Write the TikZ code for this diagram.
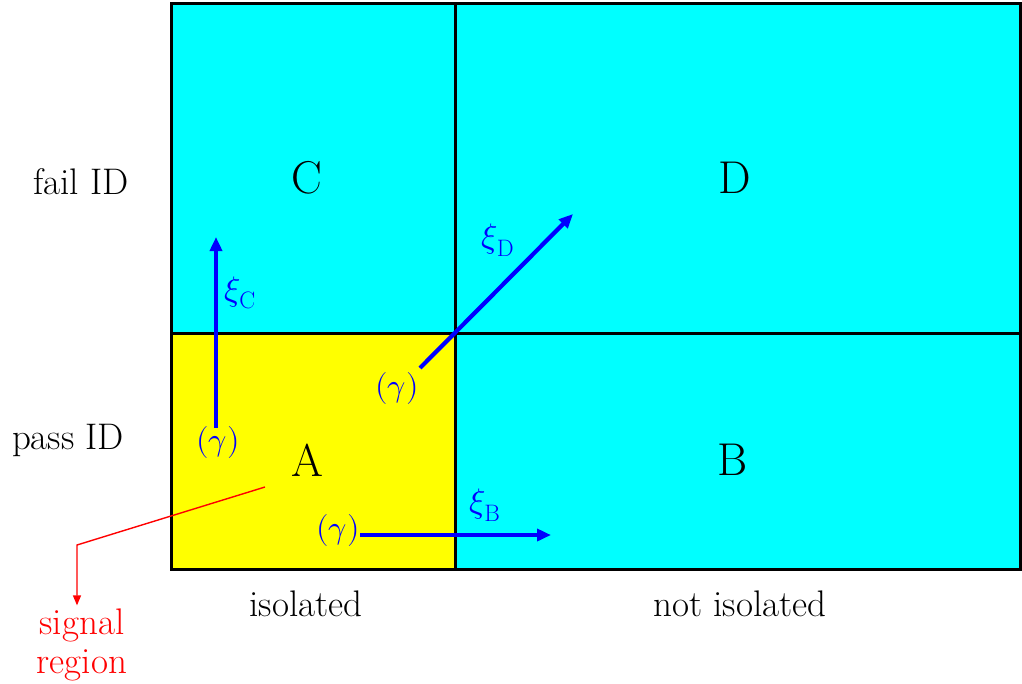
\documentclass[tikz,border=0pt]{standalone}
\usepackage{fontspec}
\usepackage{unicode-math}
\setmathfont{Latin Modern Math}
\usetikzlibrary{arrows.meta}
\definecolor{regcyan}{RGB}{0,255,255}
\definecolor{regyellow}{RGB}{255,255,0}
\definecolor{arrblue}{RGB}{0,0,255}
\definecolor{sigred}{RGB}{255,0,0}
\begin{document}
\begin{tikzpicture}[x=1pt,y=-1pt,
  biglabel/.style={font=\fontsize{46}{52}\selectfont},
  axlabel/.style={font=\fontsize{37}{42}\selectfont},
  gam/.style={text=arrblue,font=\fontsize{32}{36}\selectfont},
  xilab/.style={text=arrblue,font=\fontsize{34}{38}\selectfont},
  xiarrow/.style={draw=arrblue,line width=4.2pt,-{Triangle[length=14pt,width=12pt]}},
  sigline/.style={draw=sigred,line width=1.4pt},
  border/.style={draw=black,line width=3pt}]
\useasboundingbox (0,0) rectangle (1022,683);
% regions
\fill[regcyan] (171,3) rectangle (1020,569);
\fill[regyellow] (171,333) rectangle (455,569);
\draw[border] (171,3) rectangle (1020,569);
\draw[border] (455,3) -- (455,569);
\draw[border] (171,333) -- (1020,333);
% region letters
\node[biglabel] (C) at (307,178) {C};
\node[biglabel] (D) at (735,178) {D};
\node[biglabel] (A) at (307,460) {A};
\node[biglabel] (B) at (733,460) {B};
% axis labels
\node[axlabel] (fail) at (81,182) {fail ID};
\node[axlabel] (pass) at (68,440) {pass ID};
\node[axlabel] (iso) at (306,604) {isolated};
\node[axlabel] (niso) at (740,604) {not isolated};
% gamma labels
\node[gam] (gC) at (218,442) {$(\gamma)$};
\node[gam] (gD) at (397,388) {$(\gamma)$};
\node[gam] (gB) at (338,530) {$(\gamma)$};
% arrows
\coordinate (sC) at (216,428);
\coordinate (eC) at (216,237);
\coordinate (sD) at (420,368);
\coordinate (eD) at (573,214);
\coordinate (sB) at (360,535);
\coordinate (eB) at (551,535);
\draw[xiarrow] (sC) -- (eC);
\draw[xiarrow] (sD) -- (eD);
\draw[xiarrow] (sB) -- (eB);
\node[xilab] (xC) at (240,293) {$\xi_{\mathrm{C}}$};
\node[xilab] (xD) at (498,240) {$\xi_{\mathrm{D}}$};
\node[xilab] (xB) at (485,505) {$\xi_{\mathrm{B}}$};
% signal region
\node[text=sigred,axlabel,align=center] (sig) at (82,645) {signal\\[-3pt]region};
\coordinate (p0) at (265,487);
\coordinate (p1) at (77,545);
\draw[sigline,-{Triangle[length=10pt,width=8pt]}] (p0) -- (p1) -- (p1 |- sig.north);
\end{tikzpicture}
\end{document}
